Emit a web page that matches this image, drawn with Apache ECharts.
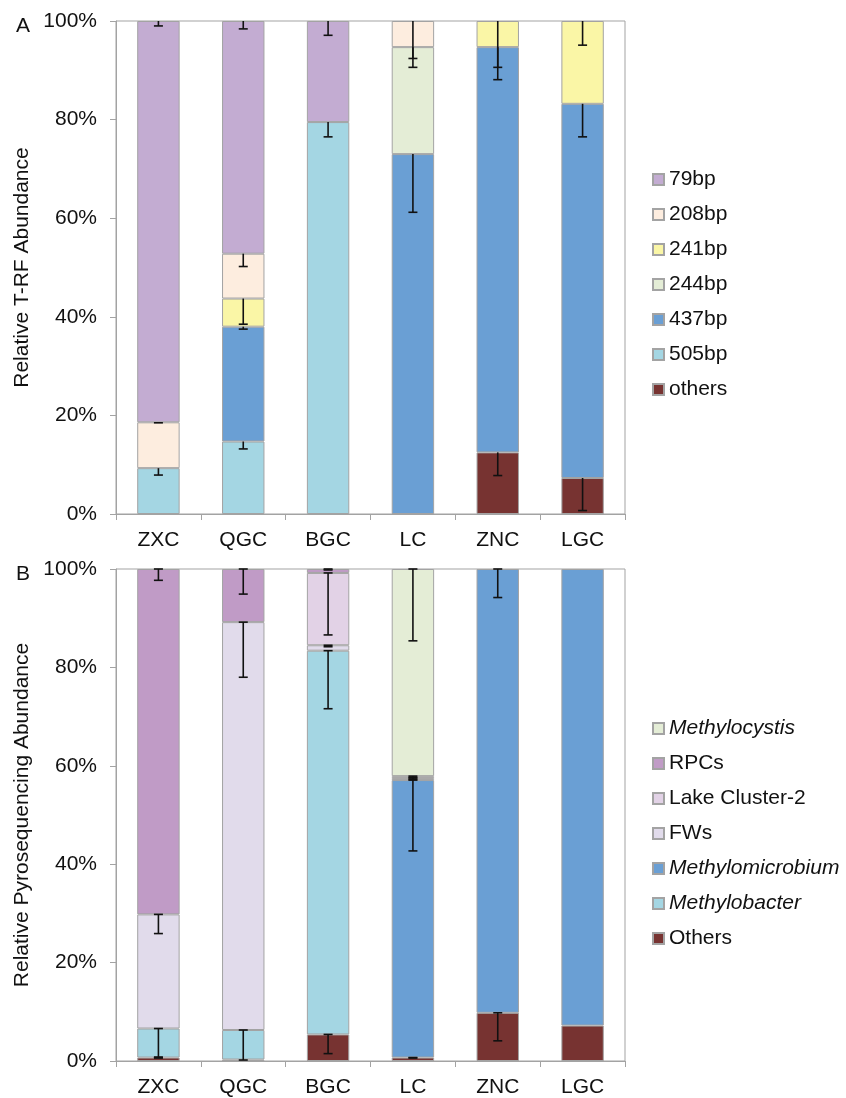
<!DOCTYPE html>
<html>
<head>
<meta charset="utf-8">
<style>
  html, body { margin: 0; padding: 0; background: #fff; }
  #chart { width: 846px; height: 1098px; }
</style>
<script src="https://cdn.jsdelivr.net/npm/echarts@6/dist/echarts.min.js"></script>
</head>
<body>
<div id="chart"></div>
<script>
// Sampling sites (shared by both panels)
const sites = ['ZXC', 'QGC', 'BGC', 'LC', 'ZNC', 'LGC'];

// Panel A: relative T-RF abundance (%), stacked bottom → top
const trfOthers = [0, 0, 0, 0, 12.5, 7.3];
const trf505 = [9.3, 14.7, 79.5, 0, 0, 0];
const trf437 = [0, 23.3, 0, 73.0, 82.2, 75.9];
const trf244 = [0, 0, 0, 21.7, 0, 0];
const trf241 = [0, 5.7, 0, 0, 5.3, 16.8];
const trf208 = [9.3, 9.1, 0, 5.3, 0, 0];
const trf79 = [81.4, 47.2, 20.5, 0, 0, 0];

// Panel A: standard deviations (%), null = no error bar
const trfOthersErr = [null, null, null, null, 4.7, 6.6];
const trf505Err = [1.4, 1.5, 3.0, null, null, null];
const trf437Err = [null, 0.5, null, 11.8, 6.6, 6.7];
const trf244Err = [null, null, null, 2.3, null, null];
const trf241Err = [null, 5.2, null, null, 9.4, 4.9];
const trf208Err = [0.1, 2.6, null, 9.4, null, null];
const trf79Err = [1.0, 1.6, 2.9, null, null, null];

// Panel B: relative pyrosequencing abundance (%), stacked bottom → top
const pyOthers = [0.7, 0.3, 5.4, 0.7, 9.8, 7.2];
const pyMethylobacter = [5.9, 6.0, 78.0, 0, 0, 0];
const pyMethylomicrobium = [0, 0, 0, 56.4, 90.2, 92.8];
const pyFWs = [23.2, 82.9, 1.1, 0.4, 0, 0];
const pyLakeCluster2 = [0, 0, 14.7, 0.4, 0, 0];
const pyRPCs = [70.2, 10.8, 0.8, 0, 0, 0];
const pyMethylocystis = [0, 0, 0, 42.1, 0, 0];

// Panel B: standard deviations (%)
const pyOthersErr = [0.1, null, 3.9, 0.1, 5.7, null];
const pyMethylobacterErr = [5.8, 6.1, 11.8, null, null, null];
const pyMethylomicrobiumErr = [null, null, null, 14.4, 5.8, null];
const pyFWsErr = [3.9, 11.2, 0.3, 0.3, null, null];
const pyLakeCluster2Err = [null, null, 12.6, 0.3, null, null];
const pyRPCsErr = [2.3, 5.1, 0.2, null, null, null];
const pyMethylocystisErr = [null, null, null, 14.6, null, null];

const yTicks = [0, 20, 40, 60, 80, 100];

const FONT = '"Liberation Sans", Arial, Helvetica, sans-serif';
const FS = 21;
const BORDER = '#a3a3a3';

// Stack definitions (bottom → top), with fill colours
const panelA = [
  { name: 'others', data: trfOthers, err: trfOthersErr, color: '#773331' },
  { name: '505bp', data: trf505, err: trf505Err, color: '#a4d6e3' },
  { name: '437bp', data: trf437, err: trf437Err, color: '#6a9fd4' },
  { name: '244bp', data: trf244, err: trf244Err, color: '#e4edd6' },
  { name: '241bp', data: trf241, err: trf241Err, color: '#faf6a6' },
  { name: '208bp', data: trf208, err: trf208Err, color: '#fdeddf' },
  { name: '79bp', data: trf79, err: trf79Err, color: '#c3acd2' }
];
const panelB = [
  { name: 'Others', data: pyOthers, err: pyOthersErr, color: '#773331' },
  { name: 'Methylobacter', data: pyMethylobacter, err: pyMethylobacterErr, color: '#a4d6e3' },
  { name: 'Methylomicrobium', data: pyMethylomicrobium, err: pyMethylomicrobiumErr, color: '#6a9fd4' },
  { name: 'FWs', data: pyFWs, err: pyFWsErr, color: '#e1dbeb' },
  { name: 'Lake Cluster-2', data: pyLakeCluster2, err: pyLakeCluster2Err, color: '#e2d2e6' },
  { name: 'RPCs', data: pyRPCs, err: pyRPCsErr, color: '#c09bc6' },
  { name: 'Methylocystis', data: pyMethylocystis, err: pyMethylocystisErr, color: '#e4edd6' }
];
const italicNames = new Set(['Methylocystis', 'Methylomicrobium', 'Methylobacter']);

function barSeries(defs, axisIdx, stackId) {
  return defs.map(d => ({
    name: d.name,
    type: 'bar',
    stack: stackId,
    xAxisIndex: axisIdx,
    yAxisIndex: axisIdx,
    barWidth: '50%',
    data: d.data.map(v => (v > 0 ? v : '-')),
    itemStyle: { color: d.color, borderColor: BORDER, borderWidth: 1 },
    emphasis: { disabled: true },
    animation: false
  }));
}

// Error bars hang downward from the top of each stacked segment
function errorData(defs) {
  const out = [];
  const cum = sites.map(() => 0);
  defs.forEach(d => {
    d.data.forEach((v, i) => {
      cum[i] += v;
      const e = d.err[i];
      if (e != null) out.push([i, cum[i], cum[i] - e]);
    });
  });
  return out;
}

function errorSeries(defs, axisIdx, bothCaps) {
  return {
    type: 'custom',
    xAxisIndex: axisIdx,
    yAxisIndex: axisIdx,
    z: 10,
    silent: true,
    animation: false,
    encode: { x: 0, y: [1, 2] },
    data: errorData(defs),
    renderItem: function (params, api) {
      const x = api.value(0);
      const hi = api.coord([x, api.value(1)]);
      const lo = api.coord([x, api.value(2)]);
      const cap = 4.5;
      const st = { stroke: '#111', lineWidth: 1.6 };
      const children = [
        { type: 'line', shape: { x1: hi[0], y1: hi[1], x2: lo[0], y2: lo[1] }, style: st },
        { type: 'line', shape: { x1: lo[0] - cap, y1: lo[1], x2: lo[0] + cap, y2: lo[1] }, style: st }
      ];
      if (bothCaps) {
        children.push({ type: 'line', shape: { x1: hi[0] - cap, y1: hi[1], x2: hi[0] + cap, y2: hi[1] }, style: st });
      }
      return { type: 'group', children: children };
    }
  };
}

function xAxisCfg(idx) {
  return {
    type: 'category',
    gridIndex: idx,
    data: sites,
    axisLine: { lineStyle: { color: BORDER, width: 1 } },
    axisTick: { show: true, length: 6, lineStyle: { color: BORDER } },
    axisLabel: { color: '#111', fontSize: FS, fontFamily: FONT, margin: 16 }
  };
}

function yAxisCfg(idx, title) {
  return {
    type: 'value',
    gridIndex: idx,
    min: 0,
    max: 100,
    interval: 20,
    name: title,
    nameLocation: 'middle',
    nameGap: 74,
    nameTextStyle: { color: '#111', fontSize: FS, fontFamily: FONT },
    axisLine: { show: true, lineStyle: { color: BORDER, width: 1 } },
    axisTick: { show: true, length: 6, lineStyle: { color: BORDER } },
    splitLine: { show: false },
    axisLabel: {
      color: '#111', fontSize: FS, fontFamily: FONT, margin: 19,
      formatter: v => (yTicks.includes(v) ? v + '%' : '')
    }
  };
}

function legendCfg(defs, top) {
  return {
    orient: 'vertical',
    left: 652,
    top: top,
    padding: 0,
    icon: 'rect',
    itemWidth: 11,
    itemHeight: 11,
    itemGap: 14,
    selectedMode: false,
    data: defs.map(d => d.name).reverse(),
    formatter: n => (italicNames.has(n) ? '{i|' + n + '}' : n),
    textStyle: {
      color: '#111', fontSize: FS, fontFamily: FONT,
      rich: { i: { fontStyle: 'italic', color: '#111', fontSize: FS, fontFamily: FONT } }
    }
  };
}

const chart = echarts.init(document.getElementById('chart'), null, { renderer: 'canvas' });
chart.setOption({
  backgroundColor: '#fff',
  animation: false,
  title: [
    { text: 'A', left: 11, top: 11, textStyle: { fontSize: 21, fontWeight: 'normal', color: '#111', fontFamily: FONT } },
    { text: 'B', left: 11, top: 559, textStyle: { fontSize: 21, fontWeight: 'normal', color: '#111', fontFamily: FONT } }
  ],
  grid: [
    { left: 116, top: 21, width: 509, height: 493, show: true, borderColor: BORDER, borderWidth: 1, backgroundColor: 'transparent' },
    { left: 116, top: 569, width: 509, height: 493, show: true, borderColor: BORDER, borderWidth: 1, backgroundColor: 'transparent' }
  ],
  xAxis: [xAxisCfg(0), xAxisCfg(1)],
  yAxis: [yAxisCfg(0, 'Relative T-RF Abundance'), yAxisCfg(1, 'Relative Pyrosequencing Abundance')],
  legend: [legendCfg(panelA, 169), legendCfg(panelB, 718)],
  series: [
    ...barSeries(panelA, 0, 'trf'),
    errorSeries(panelA, 0, false),
    ...barSeries(panelB, 1, 'pyro'),
    errorSeries(panelB, 1, true)
  ]
});
</script>
</body>
</html>
